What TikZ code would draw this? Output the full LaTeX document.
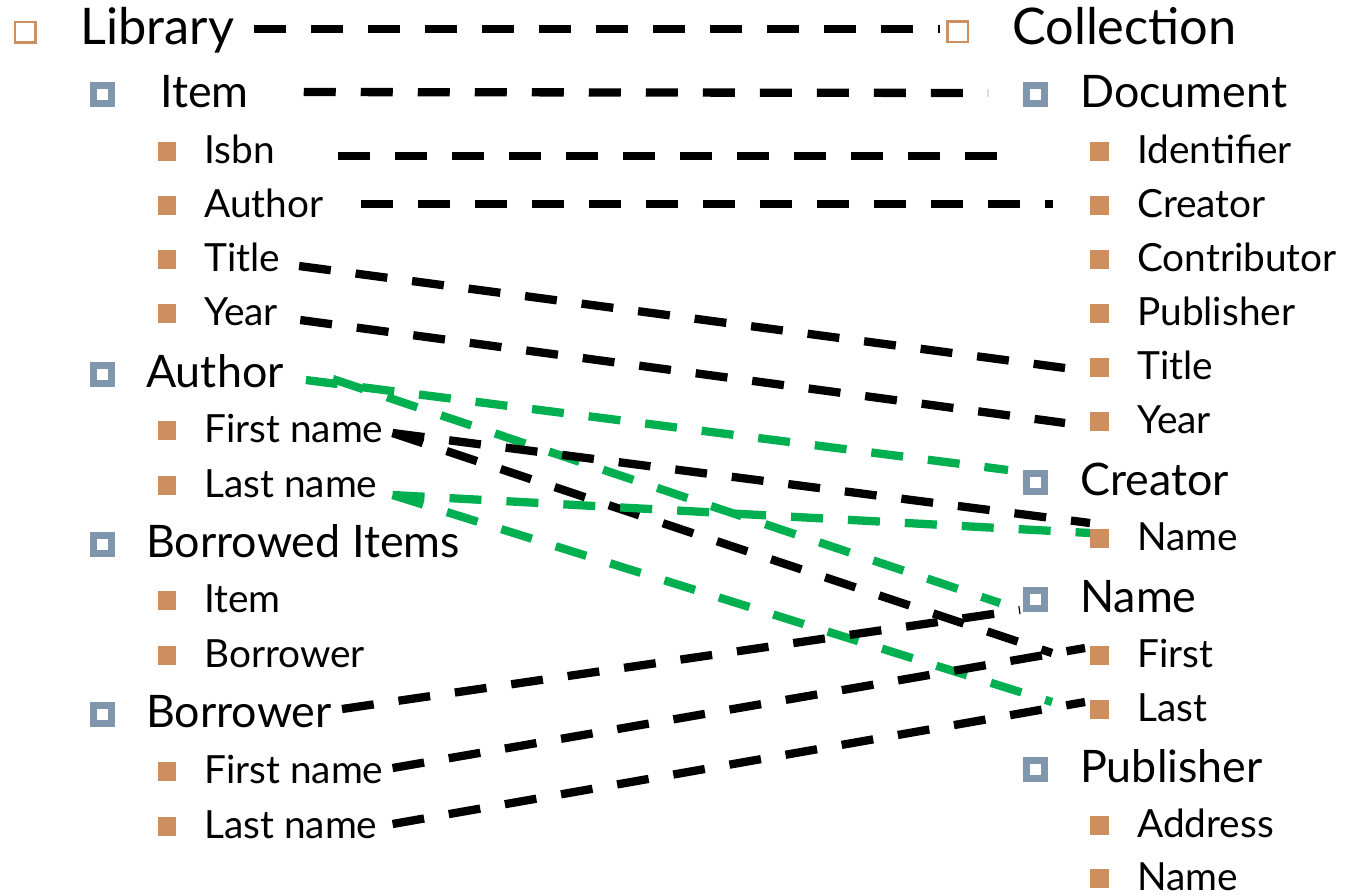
\documentclass[tikz,border=0pt]{standalone}
\usepackage{fontspec}
\setmainfont{Lato}
\usetikzlibrary{calc}
\definecolor{bulletorange}{HTML}{CD8E60}
\definecolor{bulletblue}{HTML}{7F96AD}
\definecolor{linkgreen}{HTML}{00B050}
\begin{document}
\begin{tikzpicture}[x=1pt,y=-1pt,
  lvlzero/.style={anchor=base west,inner sep=0pt,font=\fontsize{50.5}{58}\selectfont},
  lvlone/.style={anchor=base west,inner sep=0pt,font=\fontsize{44.8}{52}\selectfont},
  lvltwo/.style={anchor=base west,inner sep=0pt,font=\fontsize{38.8}{46}\selectfont},
  boxzero/.style={draw=bulletorange,line width=2.5pt,minimum size=20.5pt,inner sep=0pt},
  boxone/.style={draw=bulletblue,line width=7pt,minimum size=18pt,inner sep=0pt},
  boxtwo/.style={fill=bulletorange,minimum size=18.5pt,inner sep=0pt},
  link/.style={line width=8.3pt,dash pattern=on 32pt off 25pt},
  blacklink/.style={link,draw=black},
  greenlink/.style={link,draw=linkgreen}]
\useasboundingbox (0,0) rectangle (1351,895);

% ---- Library schema (left column) ----
\node[boxzero] (bLib) at (25,32) {};
\node[lvlzero] (tLib) at (80,44) {Library};
\node[boxone] (bItem) at (102.5,94.5) {};
\node[lvlone] (tItem) at (160,107) {Item};
\node[boxtwo] (bIsbn) at (167,151.5) {};
\node[lvltwo] (tIsbn) at (204,163) {Isbn};
\node[boxtwo] (bAuthorA) at (167,205.5) {};
\node[lvltwo] (tAuthorA) at (204,217) {Author};
\node[boxtwo] (bTitleL) at (167,259.5) {};
\node[lvltwo] (tTitleL) at (204,271) {Title};
\node[boxtwo] (bYearL) at (167,313.5) {};
\node[lvltwo] (tYearL) at (204,325) {Year};
\node[boxone] (bAuthor) at (102.5,374.5) {};
\node[lvlone] (tAuthor) at (146,387) {Author};
\node[boxtwo] (bFirstA) at (167,430.5) {};
\node[lvltwo] (tFirstA) at (204,442) {First name};
\node[boxtwo] (bLastA) at (167,485.5) {};
\node[lvltwo] (tLastA) at (204,497) {Last name};
\node[boxone] (bBorrowed) at (102.5,544.5) {};
\node[lvlone] (tBorrowed) at (146,557) {Borrowed Items};
\node[boxtwo] (bBItem) at (167,600.5) {};
\node[lvltwo] (tBItem) at (204,612) {Item};
\node[boxtwo] (bBBorrower) at (167,655.5) {};
\node[lvltwo] (tBBorrower) at (204,667) {Borrower};
\node[boxone] (bBorrower) at (102.5,714.5) {};
\node[lvlone] (tBorrower) at (146,727) {Borrower};
\node[boxtwo] (bFirstB) at (167,771.5) {};
\node[lvltwo] (tFirstB) at (204,783) {First name};
\node[boxtwo] (bLastB) at (167,826.5) {};
\node[lvltwo] (tLastB) at (204,838) {Last name};

% ---- Collection schema (right column) ----
\node[boxzero] (bColl) at (957.5,31.5) {};
\node[lvlzero] (tColl) at (1012,44) {Collection};
\node[boxone] (bDoc) at (1035,94.5) {};
\node[lvlone] (tDoc) at (1080,107) {Document};
\node[boxtwo] (bIdent) at (1099.5,151.5) {};
\node[lvltwo] (tIdent) at (1137,163) {Identifier};
\node[boxtwo] (bCreatorD) at (1099.5,205.5) {};
\node[lvltwo] (tCreatorD) at (1137,217) {Creator};
\node[boxtwo] (bContrib) at (1099.5,259.5) {};
\node[lvltwo] (tContrib) at (1137,271) {Contributor};
\node[boxtwo] (bPublD) at (1099.5,313.5) {};
\node[lvltwo] (tPublD) at (1137,325) {Publisher};
\node[boxtwo] (bTitleR) at (1099.5,367.5) {};
\node[lvltwo] (tTitleR) at (1137,379) {Title};
\node[boxtwo] (bYearR) at (1099.5,421.5) {};
\node[lvltwo] (tYearR) at (1137,433) {Year};
\node[boxone] (bCreator) at (1035,482.5) {};
\node[lvlone] (tCreator) at (1080,495) {Creator};
\node[boxtwo] (bCName) at (1099.5,538.5) {};
\node[lvltwo] (tCName) at (1137,550) {Name};
\node[boxone] (bName) at (1035,599.5) {};
\node[lvlone] (tName) at (1080,612) {Name};
\node[boxtwo] (bFirstR) at (1099.5,655.5) {};
\node[lvltwo] (tFirstR) at (1137,667) {First};
\node[boxtwo] (bLastR) at (1099.5,709.5) {};
\node[lvltwo] (tLastR) at (1137,721) {Last};
\node[boxone] (bPubl) at (1035,769.5) {};
\node[lvlone] (tPubl) at (1080,782) {Publisher};
\node[boxtwo] (bAddr) at (1099.5,825.5) {};
\node[lvltwo] (tAddr) at (1137,837) {Address};
\node[boxtwo] (bPName) at (1099.5,878.5) {};
\node[lvltwo] (tPName) at (1137,890) {Name};

% ---- connector end points ----
\coordinate (oLib)     at ($(tLib.base east)+(20,-15)$);
\coordinate (oItem)    at ($(tItem.base east)+(55,-15)$);
\coordinate (oIsbn)    at ($(tIsbn.base east)+(63,-7)$);
\coordinate (oAuthorA) at ($(tAuthorA.base east)+(37,-13)$);
\coordinate (oTitle)   at ($(tTitleL.base east)+(19,-5)$);
\coordinate (oYear)    at ($(tYearL.base east)+(22,-5)$);
\coordinate (oAuthS)   at ($(tAuthor.base east)+(22,-7)$);
\coordinate (oAuthT)   at ($(tAuthor.base east)+(49,-8)$);
\coordinate (oFirstA)  at ($(tFirstA.base east)+(9,-9)$);
\coordinate (oLastA)   at ($(tLastA.base east)+(15,-2)$);
\coordinate (oBorr)    at ($(tBorrower.base east)+(10,-18)$);
\coordinate (oFirstB)  at ($(tFirstB.base east)+(9,-15)$);
\coordinate (oLastB)   at ($(tLastB.base east)+(15,-14)$);

\coordinate (iColl)    at ($(bColl)+(-17.5,-2.5)$);
\coordinate (iDoc)     at ($(bDoc)+(-47,-1.5)$);
\coordinate (iIdent)   at ($(bIdent)+(-79.5,4.5)$);
\coordinate (iCreatorD) at ($(bCreatorD)+(-46.5,-1.5)$);
\coordinate (iTitle)   at ($(bTitleR)+(-34.5,0.5)$);
\coordinate (iYear)    at ($(bYearR)+(-34.5,1.5)$);
\coordinate (iCreator) at ($(bCreator)+(-27,-12.5)$);
\coordinate (iNameG)   at ($(bName)+(-35,3.5)$);
\coordinate (iCNameK)  at ($(bCName)+(-9.5,-15.5)$);
\coordinate (iCNameG)  at ($(bCName)+(-9.5,-5.5)$);
\coordinate (iFirstK)  at ($(bFirstR)+(-47.5,-2.5)$);
\coordinate (iLastG)   at ($(bLastR)+(-47.5,-7.5)$);
\coordinate (iNameK)   at ($(bName)+(-15,10.5)$);
\coordinate (iFirstB)  at ($(bFirstR)+(-14.5,-7.5)$);
\coordinate (iLastB)   at ($(bLastR)+(-14.5,-7.5)$);

% ---- mappings ----
\draw[blacklink] (oLib) -- (iColl);
\draw[blacklink] (oItem) -- (iDoc);
\draw[blacklink] (oIsbn) -- (iIdent);
\draw[blacklink] (oAuthorA) -- (iCreatorD);
\draw[blacklink] (oTitle) -- (iTitle);
\draw[blacklink] (oYear) -- (iYear);
\draw[greenlink] (oAuthS) -- (iCreator);
\draw[greenlink] (oAuthT) -- (iNameG);
\draw[blacklink] (oFirstA) -- (iCNameK);
\draw[blacklink] (oFirstA) -- (iFirstK);
\draw[greenlink] (oLastA) -- (iCNameG);
\draw[greenlink] (oLastA) -- (iLastG);
\draw[blacklink] (oBorr) -- (iNameK);
\draw[blacklink] (oFirstB) -- (iFirstB);
\draw[blacklink] (oLastB) -- (iLastB);
\end{tikzpicture}
\end{document}
